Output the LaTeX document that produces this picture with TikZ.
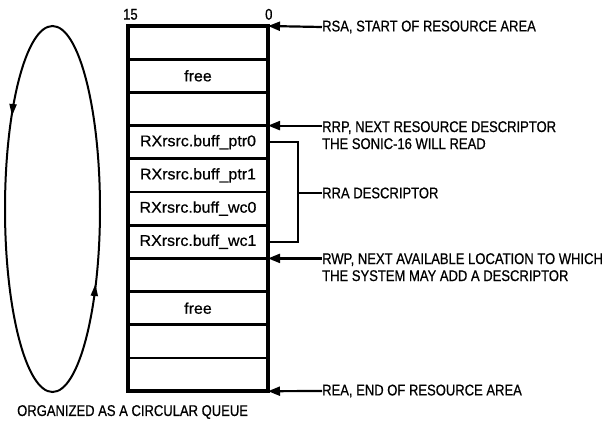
\documentclass[tikz,border=0pt]{standalone}
\usepackage{fontspec}
\setmainfont{Liberation Sans}
\newfontfamily\lblfont{Liberation Sans}[FakeStretch=0.84,FakeBold=0.6]
\newfontfamily\cellfont{Liberation Sans}[FakeStretch=1.03,FakeBold=0.6]
\usetikzlibrary{arrows.meta}
\begin{document}
\begin{tikzpicture}[x=1pt,y=-1pt,
  cell/.style={draw, line width=2.8pt, minimum width=140pt, minimum height=33.2pt,
    inner sep=0pt, outer sep=0pt, font=\cellfont\fontsize{15.5}{18}\selectfont},
  lbl/.style={anchor=west, inner sep=0pt, align=left,
    font=\lblfont\fontsize{15.5}{17}\selectfont},
  ptr/.style={line width=2.2pt, -{Triangle[length=12pt,width=9pt]}},
  conn/.style={line width=2.2pt},
  loop/.style={line width=2pt}]
\useasboundingbox (0,0) rectangle (608,421);
\fill[white] (0,0) rectangle (608,421);
% memory rows
\foreach \i/\t in {1/{},2/free,3/{},4/RXrsrc.buff\_ptr0,5/RXrsrc.buff\_ptr1,6/RXrsrc.buff\_wc0,7/RXrsrc.buff\_wc1,8/{},9/free,10/{},11/{}}{
  \node[cell] (r\i) at (198,{26+33.2*(\i-0.5)}) {\t};
}
\draw[line width=4pt] (r1.north west) rectangle (r11.south east);
% bit numbers
\node[lbl, anchor=south west] (b15) at (123,20) {15};
\node[lbl, anchor=south west] (b0) at (265,20) {0};
% labels
\node[lbl] (rsa) at (322,27) {RSA, START OF RESOURCE AREA};
\node[lbl, anchor=north west] (rrp) at (322,121) {RRP, NEXT RESOURCE DESCRIPTOR\\THE SONIC-16 WILL READ};
\node[lbl] (rra) at (322,193) {RRA DESCRIPTOR};
\node[lbl, anchor=north west] (rwp) at (322,253) {RWP, NEXT AVAILABLE LOCATION TO WHICH\\THE SYSTEM MAY ADD A DESCRIPTOR};
\node[lbl] (rea) at (322,391) {REA, END OF RESOURCE AREA};
\node[lbl] (org) at (17,412) {ORGANIZED AS A CIRCULAR QUEUE};
% pointer arrows
\draw[ptr] (rsa.west) -- (r1.north east);
\draw[ptr] (rrp.north west |- r4.north east) -- (r4.north east);
\draw[ptr] (rwp.north west |- r8.north east) -- (r8.north east);
\draw[ptr] (rea.west) -- (r11.south east);
% RRA bracket
\coordinate (bx) at (298,193);
\draw[conn] (r4.east) -| (bx) |- (r7.east);
\draw[conn] (bx) -- (rra.west);
% circular queue loop
\draw[loop] (52.5,209) ellipse [x radius=47.5, y radius=183];
\draw[loop, -{Triangle[length=12pt,width=7pt]}] (13.1,104) -- (12.0,116);
\draw[loop, -{Triangle[length=12pt,width=7pt]}] (94.3,296) -- (95.4,284);
\end{tikzpicture}
\end{document}
